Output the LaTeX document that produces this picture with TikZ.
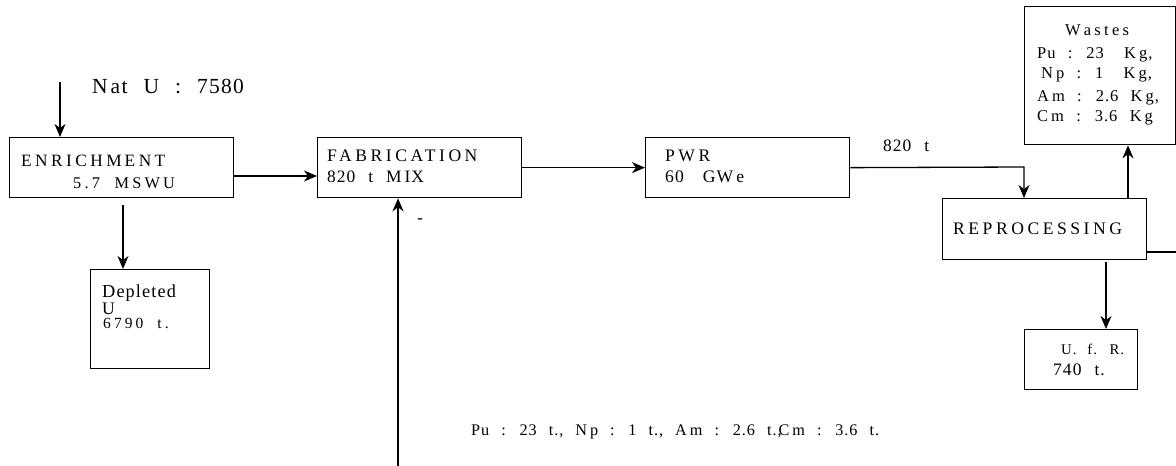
\documentclass[tikz,border=0pt]{standalone}
\usepackage{fontspec}
\setmainfont{Liberation Serif}
\newfontfamily\ucfont{Liberation Serif}[LetterSpace=20,WordSpace=2.0]
\newfontfamily\lcfont{Liberation Serif}[LetterSpace=6,WordSpace=2.4]
\usetikzlibrary{arrows.meta}
\newcommand{\fsz}[1]{\fontsize{#1}{#1}\selectfont}
\newcommand{\gp}{\kern3pt}
\tikzset{
  box/.style={draw, line width=1.3pt, inner sep=0pt, anchor=north west},
  conn/.style={line width=1.3pt},
  arr/.style={conn, -{Stealth[length=13pt,width=11pt,inset=4pt]}},
  txt/.style={anchor=base west, inner sep=0pt},
  uc/.style={txt, font=\ucfont\fsz{17.6}},
  lc/.style={txt, font=\lcfont\fsz{17.6}},
}
\begin{document}
\begin{tikzpicture}[x=1pt,y=-1pt]
\useasboundingbox (0,0) rectangle (1176,466);
% boxes
\node[box, minimum width=224pt, minimum height=60pt] (enr) at (9,137) {};
\node[box, minimum width=204pt, minimum height=60pt] (fab) at (317,137) {};
\node[box, minimum width=204pt, minimum height=60pt] (pwr) at (645,137) {};
\node[box, minimum width=204pt, minimum height=61pt] (rep) at (942,198) {};
\node[box, minimum width=151pt, minimum height=138pt] (was) at (1024,6) {};
\node[box, minimum width=119pt, minimum height=99pt] (dep) at (90,269) {};
\node[box, minimum width=113pt, minimum height=60pt] (ufr) at (1024,329) {};
% texts
\node[lc, font=\lcfont\fsz{21.5}] (tnat) at (92,93) {N\gp at U : 7580};
\node[uc, font=\ucfont\fsz{17.3}] (tenr1) at (21,166) {ENRICHM\gp ENT};
\node[uc, font=\ucfont\fsz{16.3}] (tenr2) at (73,188) {5.7 M\gp SWU};
\node[uc] (tfab1) at (327,161) {FABRICATION};
\node[lc, font=\lcfont\fsz{17.4}] (tfab2) at (327,182) {820 t M\gp IX};
\node[uc] (tpwr1) at (665,161) {PWR};
\node[lc] (tpwr2) at (665,182) {60\ \kern6pt GW\gp e};
\node[lc, font=\lcfont\fsz{17.4}] (t820) at (883,151) {820 t};
\node[uc] (trep) at (953,234) {REPROCESSING};
\node[uc, font=\ucfont\fsz{16.5}] (tw1) at (1065,35) {W\gp astes};
\node[lc, font=\lcfont\fsz{16.5}] (tw2) at (1037,58) {Pu : 23\ \kern8pt K\gp g,};
\node[lc, font=\lcfont\fsz{16.5}] (tw3) at (1041,78) {N\gp p : 1\ \kern8pt K\gp g,};
\node[lc, font=\lcfont\fsz{16.5}] (tw4) at (1037,101) {A\gp m : 2.6 K\gp g,};
\node[lc, font=\lcfont\fsz{16.5}] (tw5) at (1037,121) {C\gp m : 3.6 K\gp g};
\node[lc, font=\lcfont\fsz{18.3}] (td1) at (102,297) {Depleted};
\node[lc] (td2) at (102,314) {U};
\node[uc, font=\ucfont\fsz{15.5}] (td3) at (103,328) {6790 t.};
\node[lc, font=\lcfont\fsz{14.8}] (tu1) at (1061,354) {U. f. R.};
\node[lc, font=\lcfont\fsz{17.5}] (tu2) at (1053,375) {740 t.};
\node[lc, font=\lcfont\fsz{16.2}] (tbot) at (471,435) {Pu : 23 t., N\gp p : 1 t., A\gp m : 2.6 t.,\kern-3pt C\gp m : 3.6 t.};
\node[lc] (tdash) at (417,223) {-};
% coordinates
\coordinate (cnat) at (60,82);
\coordinate (ce2f) at (0,176);
\coordinate (cdep) at (123,205);
\coordinate (cr0) at (1024,167);
\coordinate (cwas) at (1128,0);
\coordinate (crr) at (1176,252);
\coordinate (cufr) at (1106,262);
\coordinate (cbot) at (398,466);
% connectors
\draw[arr] (cnat) -- (cnat |- enr.north);
\draw[arr] (enr.east |- ce2f) -- (fab.west |- ce2f);
\draw[arr] (cdep) -- (cdep |- dep.north);
\draw[arr] (fab.east) -- (pwr.west);
\draw[arr] (pwr.east) -- (cr0) -- (cr0 |- rep.north);
\draw[arr] (cwas |- rep.north) -- (cwas |- was.south);
\draw[conn] (rep.east |- crr) -- (crr);
\draw[arr] (cufr) -- (cufr |- ufr.north);
\draw[arr] (cbot) -- (cbot |- fab.south);
\end{tikzpicture}
\end{document}
